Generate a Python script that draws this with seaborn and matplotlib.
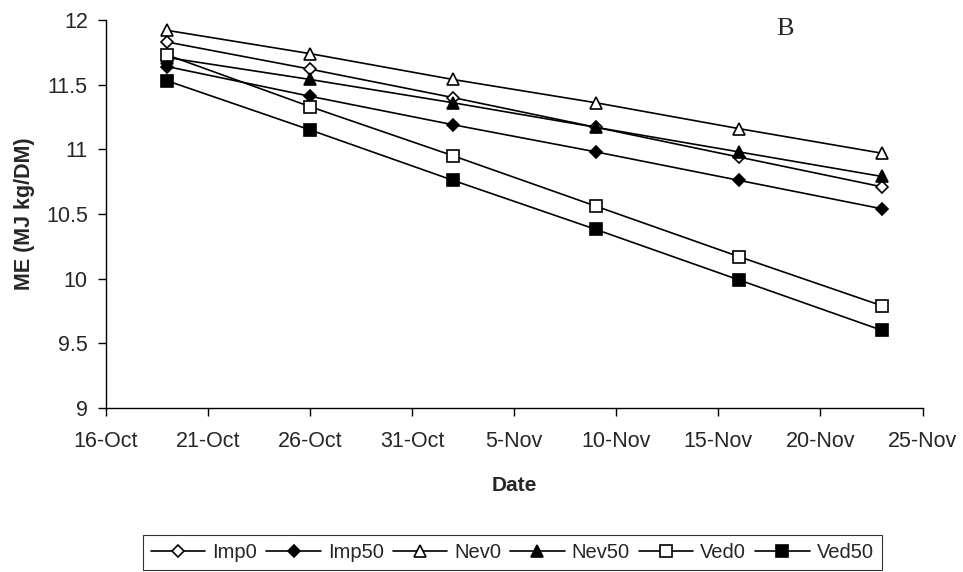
import numpy as np
import pandas as pd
import matplotlib
matplotlib.use("Agg")
import matplotlib.pyplot as plt
import matplotlib.dates as mdates
import seaborn as sns

# weekly sampling dates
dates = pd.to_datetime(["2007-10-19", "2007-10-26", "2007-11-02",
                        "2007-11-09", "2007-11-16", "2007-11-23"])

imp0 = [11.83, 11.62, 11.40, 11.17, 10.94, 10.71]
imp50 = [11.64, 11.41, 11.19, 10.98, 10.76, 10.54]
nev0 = [11.92, 11.74, 11.54, 11.36, 11.16, 10.97]
nev50 = [11.71, 11.54, 11.36, 11.17, 10.98, 10.79]
ved0 = [11.73, 11.33, 10.95, 10.56, 10.17, 9.79]
ved50 = [11.53, 11.15, 10.76, 10.38, 9.99, 9.60]

series_names = ["Imp0", "Imp50", "Nev0", "Nev50", "Ved0", "Ved50"]
series_values = [imp0, imp50, nev0, nev50, ved0, ved50]

yticks = [9, 9.5, 10, 10.5, 11, 11.5, 12]
ytick_labels = ["9", "9.5", "10", "10.5", "11", "11.5", "12"]

sns.set_style("white")
plt.rcParams["font.family"] = ["Liberation Sans", "DejaVu Sans"]

fig = plt.figure(figsize=(9.63, 5.72), dpi=100)
ax = fig.add_axes([0.110, 0.287, 0.848, 0.678])

# marker shape and fill per series
styles = {
    "Imp0": ("D", "white", 6),
    "Imp50": ("D", "black", 6),
    "Nev0": ("^", "white", 8),
    "Nev50": ("^", "black", 8),
    "Ved0": ("s", "white", 8),
    "Ved50": ("s", "black", 8),
}

for name, vals in zip(series_names, series_values):
    m, fc, ms = styles[name]
    sns.lineplot(x=dates, y=vals, ax=ax, color="black", linewidth=1.2,
                 marker=m, markersize=ms, markerfacecolor=fc,
                 markeredgecolor="black", markeredgewidth=1.2, label=name)

ax.set_xlim(pd.Timestamp("2007-10-16"), pd.Timestamp("2007-11-25"))
ax.set_ylim(9, 12)
ax.set_xticks(pd.date_range("2007-10-16", "2007-11-25", freq="5D"))
ax.xaxis.set_major_formatter(mdates.DateFormatter("%-d-%b"))
ax.set_yticks(yticks)
ax.set_yticklabels(ytick_labels)

for s in ["top", "right"]:
    ax.spines[s].set_visible(False)
for s in ["left", "bottom"]:
    ax.spines[s].set_color("black")
    ax.spines[s].set_linewidth(1.0)

ax.tick_params(axis="both", direction="out", length=6, width=1,
               color="black", labelsize=15.5, bottom=True, left=True)
ax.tick_params(axis="x", pad=11)
ax.tick_params(axis="y", pad=7)

ax.set_xlabel("Date", fontsize=15, fontweight="bold", labelpad=17)
ax.set_ylabel("ME (MJ kg/DM)", fontsize=15.5, fontweight="bold", labelpad=8)

ax.text(0.831, 1.005, "B", transform=ax.transAxes, fontsize=19,
        family="Liberation Serif", va="top", ha="center")

ax.legend(loc="center", bbox_to_anchor=(0.532, 0.034),
          bbox_transform=fig.transFigure, ncol=6, frameon=True,
          fancybox=False, edgecolor="black", fontsize=14.5,
          handlelength=2.7, handletextpad=0.35, columnspacing=0.45,
          borderpad=0.4)
ax.get_legend().get_frame().set_linewidth(0.8)

fig.savefig("out.png", dpi=100)
